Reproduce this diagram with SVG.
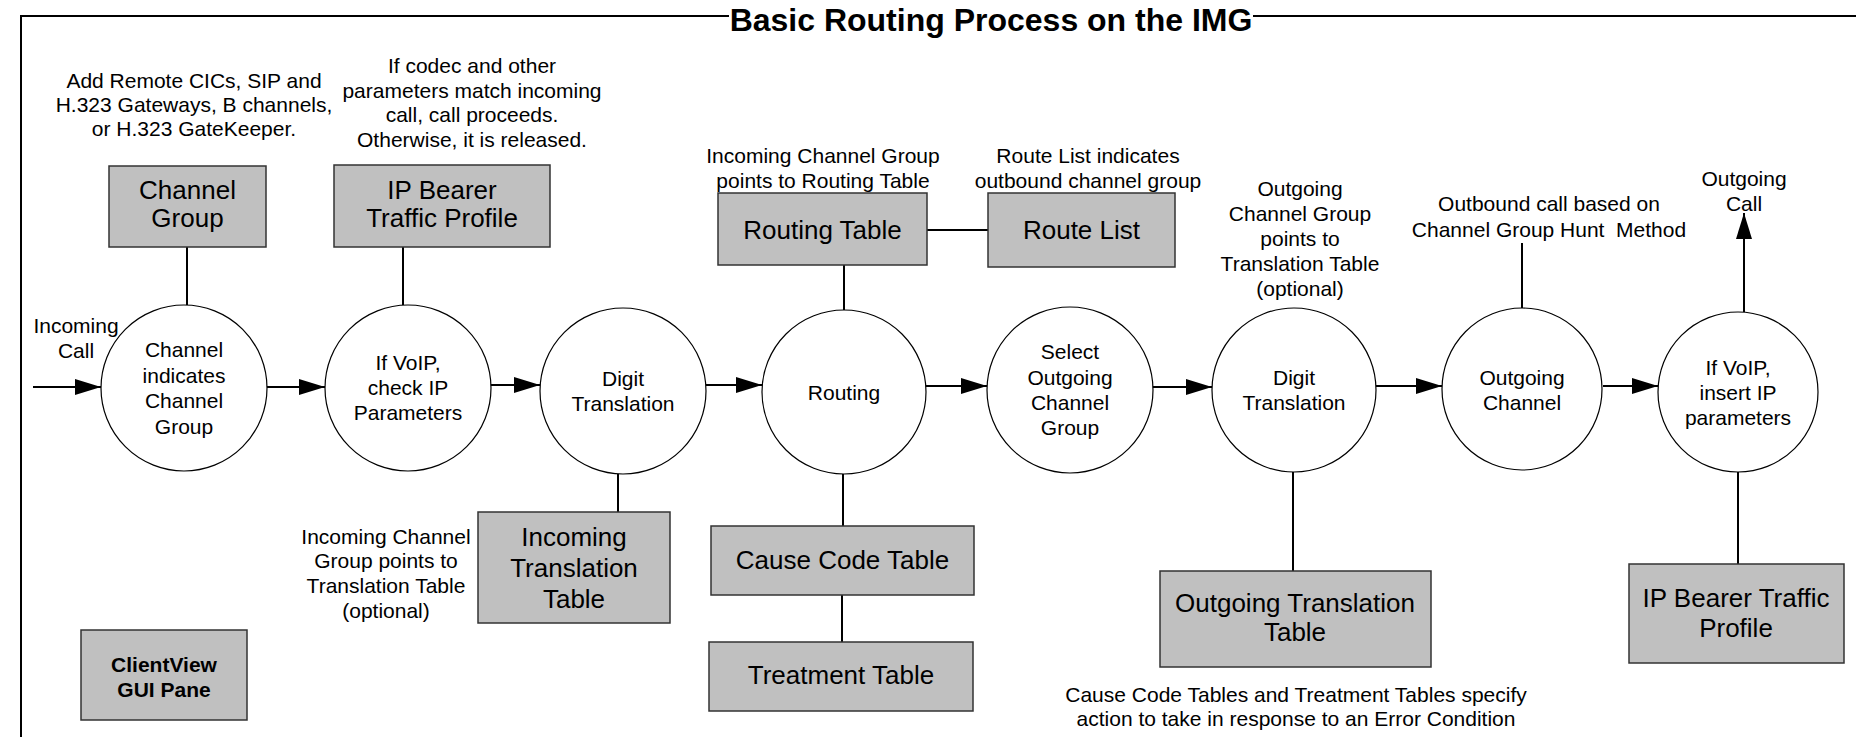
<svg xmlns="http://www.w3.org/2000/svg" width="1856" height="737" viewBox="0 0 1856 737">
<defs>
<marker id="arr" markerUnits="userSpaceOnUse" markerWidth="26" markerHeight="20" viewBox="0 0 26 20" refX="26" refY="10" orient="auto">
<path d="M0,2 L26,10 L0,18 z" fill="#000"/>
</marker>
<style>
text{font-family:"Liberation Sans",Arial,sans-serif;fill:#000;text-anchor:middle}
.t{font-size:21px}
.b{font-size:26px}
.g{font-size:21px;font-weight:bold}
.title{font-size:32px;font-weight:bold}
.box{fill:#c0c0c0;stroke:#333;stroke-width:1.5}
.circ{fill:#fff;stroke:#000;stroke-width:1.2}
.ln{stroke:#000;stroke-width:2;fill:none}
.ar{stroke:#000;stroke-width:2;fill:none;marker-end:url(#arr)}
.frame{stroke:#000;stroke-width:2;fill:none}
</style>
</defs>
<rect width="1856" height="737" fill="#fff"/>
<g id="frame">
<path class="frame" d="M21,737 L21,16 L729,16 M1253,16 L1856,16"/>
<text class="title" x="991" y="31">Basic Routing Process on the IMG</text>
</g>
<g id="notes">
<text class="t" x="194" y="88">Add Remote CICs, SIP and</text>
<text class="t" x="194" y="112">H.323 Gateways, B channels,</text>
<text class="t" x="194" y="136">or H.323 GateKeeper.</text>
<text class="t" x="472" y="73">If codec and other</text>
<text class="t" x="472" y="98">parameters match incoming</text>
<text class="t" x="472" y="122">call, call proceeds.</text>
<text class="t" x="472" y="147">Otherwise, it is released.</text>
<text class="t" x="76" y="333">Incoming</text>
<text class="t" x="76" y="358">Call</text>
<text class="t" x="386" y="544">Incoming Channel</text>
<text class="t" x="386" y="568">Group points to</text>
<text class="t" x="386" y="593">Translation Table</text>
<text class="t" x="386" y="618">(optional)</text>
<text class="t" x="823" y="163">Incoming Channel Group</text>
<text class="t" x="823" y="188">points to Routing Table</text>
<text class="t" x="1088" y="163">Route List indicates</text>
<text class="t" x="1088" y="188">outbound channel group</text>
<text class="t" x="1300" y="196">Outgoing</text>
<text class="t" x="1300" y="221">Channel Group</text>
<text class="t" x="1300" y="246">points to</text>
<text class="t" x="1300" y="271">Translation Table</text>
<text class="t" x="1300" y="296">(optional)</text>
<text class="t" x="1549" y="211">Outbound call based on</text>
<text class="t" x="1549" y="237" style="white-space:pre">Channel Group Hunt  Method</text>
<text class="t" x="1744" y="186">Outgoing</text>
<text class="t" x="1744" y="211">Call</text>
<text class="t" x="1296" y="702">Cause Code Tables and Treatment Tables specify</text>
<text class="t" x="1296" y="726">action to take in response to an Error Condition</text>
</g>
<g id="connectors">
<line class="ar" x1="33" y1="387" x2="101" y2="387"/>
<line class="ar" x1="266" y1="387" x2="325" y2="387"/>
<line class="ar" x1="490" y1="385" x2="540" y2="385"/>
<line class="ar" x1="706" y1="385" x2="762" y2="385"/>
<line class="ar" x1="925" y1="386" x2="987" y2="386"/>
<line class="ar" x1="1152" y1="387" x2="1212" y2="387"/>
<line class="ar" x1="1376" y1="386" x2="1442" y2="386"/>
<line class="ar" x1="1603" y1="386" x2="1658" y2="386"/>
<line class="ar" x1="1744" y1="312" x2="1744" y2="213"/>
<line class="ln" x1="187" y1="247" x2="187" y2="305"/>
<line class="ln" x1="403" y1="247" x2="403" y2="305"/>
<line class="ln" x1="618" y1="474" x2="618" y2="512"/>
<line class="ln" x1="844" y1="265" x2="844" y2="310"/>
<line class="ln" x1="927" y1="230" x2="988" y2="230"/>
<line class="ln" x1="843" y1="474" x2="843" y2="526"/>
<line class="ln" x1="842" y1="595" x2="842" y2="642"/>
<line class="ln" x1="1293" y1="472" x2="1293" y2="571"/>
<line class="ln" x1="1522" y1="308" x2="1522" y2="243"/>
<line class="ln" x1="1738" y1="472" x2="1738" y2="564"/>
</g>
<g id="channel-group">
<rect class="box" x="109" y="166" width="157" height="81"/>
<text class="b" x="187.5" y="199">Channel</text>
<text class="b" x="187.5" y="227">Group</text>
</g>
<g id="ip-bearer-top">
<rect class="box" x="334" y="165" width="216" height="82"/>
<text class="b" x="442" y="199">IP Bearer</text>
<text class="b" x="442" y="227">Traffic Profile</text>
</g>
<g id="routing-table">
<rect class="box" x="718" y="193" width="209" height="72"/>
<text class="b" x="822.5" y="239">Routing Table</text>
</g>
<g id="route-list">
<rect class="box" x="988" y="193" width="187" height="74"/>
<text class="b" x="1081.5" y="239">Route List</text>
</g>
<g id="incoming-translation-table">
<rect class="box" x="478" y="512" width="192" height="111"/>
<text class="b" x="574" y="546">Incoming</text>
<text class="b" x="574" y="577">Translation</text>
<text class="b" x="574" y="608">Table</text>
</g>
<g id="cause-code-table">
<rect class="box" x="711" y="526" width="263" height="69"/>
<text class="b" x="842.5" y="569">Cause Code Table</text>
</g>
<g id="treatment-table">
<rect class="box" x="709" y="642" width="264" height="69"/>
<text class="b" x="841" y="684">Treatment Table</text>
</g>
<g id="outgoing-translation-table">
<rect class="box" x="1160" y="571" width="271" height="96"/>
<text class="b" x="1295" y="612">Outgoing Translation</text>
<text class="b" x="1295" y="641">Table</text>
</g>
<g id="ip-bearer-bottom">
<rect class="box" x="1629" y="564" width="215" height="99"/>
<text class="b" x="1736" y="607">IP Bearer Traffic</text>
<text class="b" x="1736" y="637">Profile</text>
</g>
<g id="clientview">
<rect class="box" x="81" y="630" width="166" height="90"/>
<text class="g" x="164" y="672">ClientView</text>
<text class="g" x="164" y="697">GUI Pane</text>
</g>
<g id="c1">
<ellipse class="circ" cx="184" cy="388" rx="83" ry="83"/>
<text class="t" x="184" y="357">Channel</text>
<text class="t" x="184" y="383">indicates</text>
<text class="t" x="184" y="408">Channel</text>
<text class="t" x="184" y="434">Group</text>
</g>
<g id="c2">
<ellipse class="circ" cx="408" cy="388" rx="83" ry="83"/>
<text class="t" x="408" y="370">If VoIP,</text>
<text class="t" x="408" y="395">check IP</text>
<text class="t" x="408" y="420">Parameters</text>
</g>
<g id="c3">
<ellipse class="circ" cx="623" cy="391" rx="83" ry="83"/>
<text class="t" x="623" y="386">Digit</text>
<text class="t" x="623" y="411">Translation</text>
</g>
<g id="c4">
<ellipse class="circ" cx="844" cy="392" rx="82" ry="82"/>
<text class="t" x="844" y="400">Routing</text>
</g>
<g id="c5">
<ellipse class="circ" cx="1070" cy="390" rx="83" ry="83"/>
<text class="t" x="1070" y="359">Select</text>
<text class="t" x="1070" y="385">Outgoing</text>
<text class="t" x="1070" y="410">Channel</text>
<text class="t" x="1070" y="435">Group</text>
</g>
<g id="c6">
<ellipse class="circ" cx="1294" cy="390" rx="82" ry="82"/>
<text class="t" x="1294" y="385">Digit</text>
<text class="t" x="1294" y="410">Translation</text>
</g>
<g id="c7">
<ellipse class="circ" cx="1522" cy="389" rx="80" ry="81"/>
<text class="t" x="1522" y="385">Outgoing</text>
<text class="t" x="1522" y="410">Channel</text>
</g>
<g id="c8">
<ellipse class="circ" cx="1738" cy="392" rx="80" ry="80"/>
<text class="t" x="1738" y="375">If VoIP,</text>
<text class="t" x="1738" y="400">insert IP</text>
<text class="t" x="1738" y="425">parameters</text>
</g>
</svg>
